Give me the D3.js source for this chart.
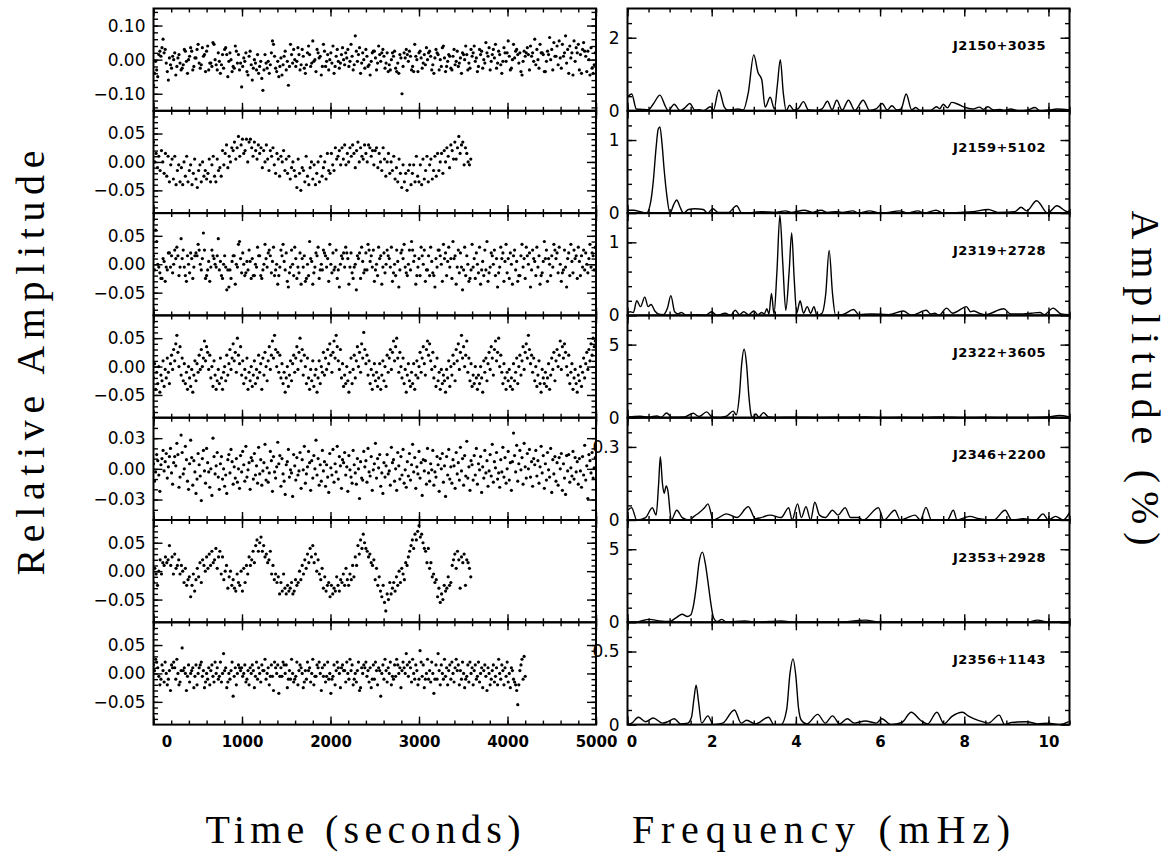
<!DOCTYPE html>
<html>
<head>
<meta charset="utf-8" />
<script src="https://d3js.org/d3.v7.min.js"></script>
<style>
  body { margin: 0; background: #fff; }
  .ylab text { font-family: "DejaVu Sans", sans-serif; font-size: 17px; fill: #000; }
  .xlab text { font-family: "DejaVu Sans", sans-serif; font-size: 15px; font-weight: bold; fill: #000; }
  .tick line { stroke: #000; stroke-width: 1.4px; }
  .title { font-family: "Liberation Serif", serif; font-size: 40px; fill: #000; }
  .star { font-family: "DejaVu Sans", sans-serif; font-size: 13px; font-weight: bold; letter-spacing: 0.5px; fill: #000; }
</style>
</head>
<body>
<svg id="chart" width="1173" height="858"></svg>
<script>
// ---- data: star names, light curves (units of 0.001), periodograms [mHz, %] ----
var stars = ["J2150+3035", "J2159+5102", "J2319+2728", "J2322+3605", "J2346+2200", "J2353+2928", "J2356+1143"];

// sampling step of each light curve (seconds)
var cadence = [12, 15, 12, 12, 12, 15, 12];

var lc1 = [-75,-40,-5,-30,-50,15,25,10,35,60,20,30,-10,-35,-60,5,-15,-25,10,0,
  20,-45,-20,5,15,-10,-30,-25,-15,30,25,-5,-40,0,10,35,25,-30,-20,5,
  5,30,45,-10,-25,-15,35,10,15,-35,25,40,-30,-10,-10,-20,50,45,0,-15,
  -30,20,-5,-40,-15,15,-25,30,35,15,-50,-5,20,0,-35,-20,-25,40,25,-10,
  15,-30,-10,-80,-20,5,-5,20,-35,-45,10,25,-15,-60,-25,0,-10,-30,15,-40,
  -20,-5,-55,-90,-30,15,-10,-25,-5,-40,-15,20,55,45,10,-25,-35,-5,-50,-20,
  5,-45,-15,10,25,-30,-5,-75,-20,45,15,-10,30,0,-20,-5,35,15,-30,-15,
  30,10,-25,-40,-15,20,40,15,-20,-10,55,-5,0,-35,30,20,5,10,-45,-20,
  45,25,-20,-5,15,-30,0,20,-10,40,-40,-20,10,30,-5,-25,-10,15,35,0,
  -15,20,5,30,-20,-5,45,10,-30,-15,70,25,-5,15,35,-40,-10,20,0,-25,
  30,10,-20,-15,-45,-5,20,25,25,5,-30,-10,40,15,-5,20,30,10,-25,-10,
  20,-35,-15,-30,0,20,10,25,-25,-35,-10,-40,15,5,-100,-20,20,5,30,15,
  -5,25,10,-30,-20,-35,45,10,0,-35,20,25,5,-25,-10,15,-15,35,0,20,
  25,10,-30,-15,-40,5,30,20,15,-30,0,-20,35,40,5,-35,-20,-5,15,10,
  -25,-30,10,30,-15,-5,25,-20,-10,5,-40,20,15,0,40,15,-30,-10,-25,30,
  10,20,40,-5,5,-35,-20,30,15,25,-25,0,-10,50,20,10,35,-30,-5,15,
  30,5,45,-25,-10,25,15,-15,-40,-5,35,20,-5,20,55,10,-30,-25,0,45,
  5,25,30,15,-10,20,-35,-45,-5,25,10,20,35,15,-30,40,10,20,-5,60,
  -15,30,0,-25,45,20,20,15,-35,-35,-5,25,15,65,0,30,-30,50,10,10,
  40,-15,55,5,-25,45,10,20,70,-10,30,-40,40,5,20,-45,55,-5,35,20,
  45,-30,15,-40,30,50,25,10,-35,25,0,-45,35,-25,-40,-15,20];

var lc2 = [35,0,15,-10,10,-15,20,0,-20,15,-25,10,-35,-5,5,-30,10,-40,-15,-5,
  -35,-10,-40,0,-25,10,-35,-15,-5,-40,-20,5,-30,-45,-15,-5,-35,0,-25,-15,
  -30,-20,5,-35,-5,10,-25,-35,5,-15,-10,-25,20,-5,15,30,-10,10,0,25,
  20,35,5,25,45,10,30,40,15,20,40,0,35,40,25,10,35,20,5,30,
  15,25,-10,20,0,30,5,-15,20,10,25,-5,-20,15,5,-25,10,0,20,-15,
  5,-20,10,-30,-10,0,-15,-25,-45,5,-20,-50,-10,-15,-35,10,-25,-40,-10,0,
  -30,-5,-40,-20,0,-35,10,-25,-10,0,-30,15,-15,-20,15,-5,-15,25,5,10,
  20,-5,25,5,30,-5,15,0,25,10,30,15,-10,20,35,0,25,10,5,30,
  15,0,30,25,10,20,-5,20,25,-10,15,0,-15,25,5,-25,0,15,-20,0,
  -15,10,-30,-10,-35,5,-20,-45,-5,-35,-20,-50,-15,-5,-40,-20,-5,-35,10,-25,
  -35,-5,-40,5,-30,-15,10,-35,-5,5,-30,-15,10,-25,15,-15,0,15,-20,20,
  0,25,10,-10,30,20,5,35,5,25,45,15,30,35,-5,25,15,0,-5,5];

var lc3 = [15,-10,60,40,0,-5,-15,-25,-25,10,5,-30,-5,-10,20,20,-5,15,-15,0,
  25,10,30,15,-20,-5,45,10,25,-5,-20,-30,15,0,-15,20,10,-25,-5,15,
  20,15,35,25,0,-10,10,55,25,-25,-20,-10,5,-30,-5,25,15,10,0,-5,
  15,45,-10,5,-20,-25,0,15,-5,-45,-10,-40,-10,-25,5,15,15,-35,0,-5,
  35,40,10,-15,20,0,-20,-15,5,-10,25,5,-25,10,-20,-20,0,-5,30,15,
  15,-20,-25,-10,0,35,10,-5,20,25,15,-15,5,30,-20,-10,0,-35,-20,-5,
  25,15,35,5,-10,20,-30,-40,-15,-5,25,0,-20,30,10,-25,-5,-15,20,-35,
  10,-5,15,-30,-25,0,-20,40,10,5,-35,-15,-5,20,15,30,-25,-10,0,-10,
  25,20,15,-5,10,-30,35,0,-15,20,-10,-5,25,-25,-10,-40,0,15,10,20,
  -5,30,20,10,-35,-5,20,-15,-25,-5,0,-45,15,10,20,-25,30,5,-15,-10,
  20,-10,35,25,5,15,-5,25,-30,-10,0,-20,30,10,15,-35,-5,20,-15,0,
  25,15,10,-5,30,-30,-15,0,-20,25,5,-40,-10,20,25,10,35,-5,-15,-20,
  0,25,-10,40,25,5,15,-35,-20,-5,10,-20,30,15,0,25,-30,-10,-10,15,
  -20,30,5,-15,-20,-40,10,-5,25,25,15,0,-30,35,10,20,-20,5,30,-5,
  10,-25,40,10,15,-35,-5,25,-15,20,-5,-45,-10,30,-20,15,0,-30,-25,-10,
  35,-5,10,-25,20,0,-15,30,-35,-10,5,-20,25,-10,40,-30,-15,-5,20,15,
  0,25,-20,10,-40,-15,-5,30,10,20,-30,5,35,-15,10,-25,20,0,-35,15,
  25,-10,5,-30,-20,-20,15,35,-5,10,-25,30,15,0,20,-40,-10,25,10,5,
  -20,30,-5,15,-35,-20,-15,5,40,10,25,-30,10,0,-20,15,-5,35,25,10,
  20,-15,30,0,-30,-15,-10,25,-5,-40,10,20,-20,35,5,-15,25,10,15,-25,
  30,5,-20,15,-5,25,-10,20,0,-15,10,35,-5,20,15,-10,30];

var lc4 = [-20,5,-40,-10,-30,0,-45,-15,-25,10,-35,-5,-20,15,-10,-30,5,20,-5,30,10,40,55,25,0,35,-15,15,-25,5,
  -30,-10,-40,0,-20,-35,-5,-45,-15,10,-25,5,-10,20,-5,30,0,15,45,10,35,25,-5,20,-20,0,-35,10,-15,-40,-25,
  -5,-30,15,-20,-40,-10,0,-25,20,-15,5,30,-5,15,40,10,25,-10,50,20,5,35,-15,10,-30,-5,-20,15,-40,-10,
  -25,0,-35,-15,10,-30,-5,-20,20,-10,5,-40,15,-15,25,0,-25,10,35,-5,20,45,15,55,30,0,25,-10,20,-20,5,
  -30,-10,-45,-20,0,-35,-15,10,-25,5,20,-10,15,35,-5,25,50,10,30,-15,20,0,-30,15,-20,-40,-5,-25,10,
  -35,-15,-5,-45,-20,10,-30,0,-10,25,-15,15,-5,30,5,40,20,-10,25,45,15,55,35,10,-5,30,-20,5,-35,-15,-30,
  0,-25,-45,-10,15,-30,-5,20,-20,10,35,0,25,-10,40,15,60,30,5,20,-15,10,-30,-5,-40,-15,5,-25,-10,-35,
  -20,5,-40,-15,10,-25,0,-35,20,-10,15,30,-5,25,45,10,35,50,15,-10,25,0,-20,15,-30,-5,-45,-15,5,-25,-35,
  -10,-30,5,-40,-15,10,-20,0,25,-10,15,35,5,-15,30,45,20,40,10,-5,25,-20,0,-35,15,-25,-10,-40,-5,-30,-15,
  -25,-45,-5,-20,10,-35,0,-15,20,5,-25,30,10,40,-5,25,55,15,35,0,20,45,-10,15,-25,5,-35,-15,-30,0,-20,-40,
  -15,-30,0,-20,-45,10,-10,15,-25,5,25,-5,35,15,-15,30,45,10,25,50,0,20,-10,-30,5,-20,-40,-10,-25,-5,-35,
  -20,-40,5,-25,-10,15,-30,0,20,-15,10,35,-5,25,40,15,55,30,5,20,-10,15,-25,0,-35,-15,10,-30,-45,-5,-20,-30,
  -10,-35,-20,5,-40,-15,15,-5,25,-25,10,30,0,20,45,-5,35,15,40,25,0,-15,20,-30,-10,5,-40,-20,-5,-30,-45,-15,
  -25,0,-35,-10,15,-20,5,25,-5,30,10,40,20,50,35,45];

var lc5 = [5,-12,-3,14,8,-6,-22,4,10,18,-2,7,15,-9,2,12,20,-4,-15,6,
  12,3,25,14,-18,-8,33,16,-5,0,22,9,-12,-20,5,28,11,-16,8,-3,
  -24,-10,15,4,-7,-31,10,18,-2,-14,20,6,-3,-18,0,-26,30,12,-5,3,
  16,-8,-20,5,12,-10,0,-17,-6,-24,9,14,-4,19,7,-15,2,-9,10,-13,
  0,-19,13,-3,17,4,-12,22,-8,-1,6,-20,11,8,-10,15,-6,3,-14,21,
  -5,9,-16,-2,6,24,-11,1,-13,-4,17,8,-22,12,-3,-9,2,26,5,13,
  -17,10,-5,-12,-25,4,7,19,-8,-1,-4,-27,14,3,-11,11,-6,-2,16,-19,
  9,-1,22,-14,-5,2,17,6,-21,8,-9,13,0,28,-6,10,-16,4,-12,18,
  -2,7,-17,4,-8,-23,15,1,-6,19,-13,5,-3,22,-10,12,3,-19,9,6,
  16,-6,2,-22,13,-1,-8,-14,18,4,-4,-15,10,0,-29,7,-9,-11,17,2,
  8,-13,20,-3,-7,12,-21,-1,5,25,-9,10,1,14,-17,-4,-24,6,-8,3,
  14,-5,-2,-16,21,6,9,-12,0,-21,16,3,-10,12,-6,19,-14,-1,-18,7,
  -7,15,-11,4,24,-3,11,-19,2,-5,17,-9,6,-26,9,-2,8,-15,20,-4,
  -12,5,-1,18,-16,-3,-8,12,4,-22,10,0,15,-13,3,-27,12,-6,19,-10,
  2,-14,9,3,-19,16,-5,6,-11,21,-2,10,-16,13,-7,27,-9,2,-21,8,
  4,-11,13,-6,20,-15,5,-1,12,-23,2,-9,18,-4,8,-17,-2,14,-7,24,
  -13,7,1,16,-10,-4,-18,9,-3,21,-8,11,-14,0,17,-11,6,-21,7,35,
  13,-3,23,-12,5,18,-1,11,-15,25,2,-9,15,0,19,-8,7,-17,10,4,
  18,-7,8,-14,2,22,-4,13,-19,5,-11,16,-1,-8,20,-23,9,-5,12,-12,
  6,-16,11,0,15,-21,5,-9,-25,13,-2,14,-13,1,-7,17,-10,11,-3,7,
  -15,10,-2,-18,12,-6,23,-11,3,-29,14,8,-4,16,-9,1,11];

var lc6 = [-20,5,-5,-25,0,20,-5,15,10,25,15,20,45,10,25,-5,30,5,10,20,
  -5,10,0,-20,5,-25,-15,-10,-45,-25,-5,-35,-15,5,-10,15,-20,20,10,0,
  25,5,30,10,35,15,20,40,5,25,35,-5,25,-15,0,10,-30,-10,0,-25,
  -15,-30,-35,-5,-20,-25,0,-35,5,-20,10,-5,25,10,20,35,15,45,55,35,
  50,60,35,45,25,30,15,20,35,-5,10,-15,-5,-20,-10,-40,-20,-35,-5,-30,
  -40,-25,-35,-30,-20,-40,-35,-15,-25,-20,0,-15,10,-5,20,5,30,15,40,25,
  45,15,30,0,20,-5,-15,5,-30,-10,-35,-25,-20,-45,-25,-40,-30,-35,-10,-25,
  -35,-15,-20,-5,-25,5,-15,-25,-5,-15,10,-10,25,10,45,30,55,40,65,50,
  40,35,25,30,15,10,20,-15,5,-25,-10,-35,-45,-25,-55,-70,-40,-50,-20,-40,
  -30,-20,-35,-10,-25,0,-20,5,-5,-15,15,10,25,35,45,55,40,65,55,70,
  80,60,65,50,40,35,15,40,5,15,-10,-5,-20,-15,-45,-30,-55,-40,-50,-25,
  -35,-30,-10,-25,-20,10,20,30,5,35,20,-30,25,15,30,-25,20,15,5,-10];

var lc7 = [15,5,25,20,10,-5,-20,-10,15,5,-15,20,0,-20,-10,5,-30,15,10,20,
  10,-10,25,0,-20,-15,5,45,5,10,0,-30,-5,15,-15,0,5,10,-25,-5,
  15,-20,0,10,15,20,-5,5,-25,-15,0,-10,10,-20,5,15,-5,-15,20,0,
  10,-10,-5,20,-15,0,35,5,10,-25,-15,0,-10,5,20,-40,-5,10,-20,0,
  15,10,5,10,-5,0,15,-15,-10,5,-20,10,0,15,5,-25,-5,20,-10,10,
  0,-15,15,5,5,25,-10,0,10,-20,-5,15,-5,-30,20,10,0,15,-35,-5,
  10,-5,20,15,0,15,-25,-10,5,-10,25,0,-15,-10,-5,20,-20,5,15,10,
  0,-25,-15,5,-10,20,5,10,-15,0,25,-20,-5,-5,15,10,20,0,-30,10,
  -5,15,-15,-5,20,-10,0,-35,-10,-5,15,-20,5,20,10,0,-25,10,15,5,
  5,-15,20,0,-10,25,5,15,-20,-10,0,-15,5,20,-30,-25,10,0,15,10,
  20,-5,5,-15,10,-25,-10,15,-10,20,5,-20,10,5,-40,0,15,-10,25,5,
  -15,10,0,20,-20,-5,-10,15,-5,25,15,0,10,-25,5,20,10,0,35,15,
  -5,20,10,-15,25,0,-10,15,5,-20,-10,40,20,-5,15,-25,-10,0,25,-10,
  5,-15,20,0,-35,-10,15,-10,35,5,-20,15,0,-10,25,-5,10,-20,5,15,
  -10,20,0,-15,10,25,5,15,-20,5,-10,20,0,-25,-10,-5,15,-15,20,0,
  10,-20,5,15,-10,-5,20,-15,0,10,-25,5,15,-5,-30,10,0,-20,-10,5,
  15,-15,-5,10,-20,25,0,-10,15,5,-20,10,-5,20,-15,0,-25,10,5,-10,
  -15,-20,-30,-55,-20,5,15,25,-10,30,-5];

var pg1 = [[0,0.38],[0.1,0.46],[0.21,0.05],[0.35,0.04],[0.5,0.03],[0.62,0.2],[0.77,0.43],[0.9,0.12],[0.97,0.0],
  [1.11,0.18],[1.25,0.0],[1.36,0.08],[1.48,0.2],[1.6,0.02],[1.7,0.03],[1.8,0.0],[1.97,0.11],[2.04,0.02],[2.17,0.57],
  [2.3,0.1],[2.38,0.02],[2.5,0.03],[2.62,0.05],[2.75,0.02],[2.87,0.5],[3.0,1.53],[3.1,1.05],[3.19,0.85],[3.27,0.1],
  [3.39,0.37],[3.49,0.05],[3.56,0.7],[3.63,1.40],[3.7,0.5],[3.77,0.0],[3.85,0.15],[3.95,0.02],[4.05,0.05],[4.18,0.25],
  [4.3,0.02],[4.5,0.01],[4.62,0.05],[4.75,0.26],[4.86,0.03],[4.97,0.29],[5.1,0.02],[5.25,0.29],[5.4,0.01],[5.6,0.29],
  [5.75,0.01],[5.9,0.05],[6.05,0.2],[6.17,0.02],[6.28,0.14],[6.4,0.02],[6.5,0.05],[6.62,0.46],[6.75,0.03],[6.85,0.09],
  [6.95,0.01],[7.2,0.01],[7.34,0.11],[7.42,0.06],[7.5,0.18],[7.6,0.08],[7.7,0.23],[7.85,0.18],[8.0,0.1],[8.2,0.05],
  [8.36,0.1],[8.46,0.04],[8.56,0.11],[8.7,0.02],[8.85,0.04],[8.95,0.01],[9.1,0.05],[9.3,0.0],[9.5,0.02],[9.68,0.09],
  [9.8,0.0],[10.0,0.02],[10.2,0.05],[10.5,0.02]];

var pg2 = [[0,0.04],[0.15,0.04],[0.3,0.02],[0.45,0.0],[0.55,0.15],[0.61,0.42],[0.68,0.9],[0.73,1.15],[0.77,1.18],
  [0.82,0.95],[0.87,0.6],[0.93,0.26],[1.01,0.0],[1.1,0.12],[1.17,0.18],[1.25,0.08],[1.33,0.0],[1.45,0.05],[1.6,0.06],
  [1.8,0.05],[1.9,0.0],[2.03,0.06],[2.15,0.01],[2.4,0.01],[2.59,0.1],[2.72,0.0],[3.0,0.01],[3.2,0.02],[3.5,0.01],
  [3.75,0.03],[3.9,0.01],[4.2,0.04],[4.4,0.01],[4.6,0.04],[4.75,0.01],[4.95,0.02],[5.1,0.01],[5.35,0.03],[5.5,0.0],
  [5.75,0.03],[6.0,0.0],[6.2,0.01],[6.46,0.03],[6.65,0.0],[6.9,0.03],[7.05,0.0],[7.33,0.04],[7.5,0.0],[7.9,0.01],
  [8.2,0.02],[8.57,0.05],[8.8,0.01],[9.2,0.02],[9.35,0.08],[9.48,0.03],[9.72,0.17],[9.98,0.0],[10.2,0.1],[10.45,0.02],[10.5,0.03]];

var pg3 = [[0,0.03],[0.06,0.05],[0.14,0.04],[0.22,0.2],[0.31,0.12],[0.41,0.25],[0.49,0.12],[0.56,0.15],[0.65,0.06],
  [0.73,0.02],[0.85,0.01],[0.95,0.1],[1.03,0.27],[1.12,0.05],[1.2,0.02],[1.28,0.04],[1.4,0.0],[1.6,0.01],[1.85,0.0],
  [2.0,0.05],[2.12,0.0],[2.32,0.03],[2.45,0.0],[2.56,0.07],[2.66,0.01],[2.76,0.05],[2.88,0.01],[3.0,0.06],[3.1,0.01],
  [3.19,0.04],[3.25,0.02],[3.31,0.09],[3.36,0.02],[3.42,0.3],[3.48,0.02],[3.55,0.6],[3.62,1.37],[3.69,0.7],[3.76,0.07],
  [3.84,0.6],[3.9,1.13],[3.96,0.5],[4.02,0.03],[4.1,0.2],[4.18,0.03],[4.27,0.12],[4.35,0.03],[4.43,0.12],[4.5,0.0],
  [4.62,0.03],[4.71,0.3],[4.79,0.89],[4.87,0.3],[4.94,0.01],[5.1,0.01],[5.37,0.08],[5.5,0.01],[5.8,0.02],[6.2,0.01],
  [6.55,0.06],[6.75,0.0],[7.1,0.07],[7.2,0.02],[7.3,0.03],[7.4,0.0],[7.58,0.1],[7.72,0.03],[7.82,0.05],[8.05,0.12],
  [8.15,0.05],[8.22,0.06],[8.35,0.03],[8.5,0.01],[8.94,0.09],[9.1,0.02],[9.4,0.02],[9.6,0.03],[9.8,0.04],[9.9,0.01],
  [10.11,0.1],[10.3,0.02],[10.5,0.01]];

var pg4 = [[0,0.05],[0.3,0.1],[0.5,0.05],[0.7,0.12],[0.8,0.03],[0.93,0.32],[1.05,0.03],[1.35,0.05],[1.56,0.3],
  [1.7,0.08],[1.88,0.4],[2.02,0.03],[2.2,0.02],[2.35,0.1],[2.51,0.45],[2.58,0.2],[2.66,1.6],[2.71,3.6],[2.77,4.68],
  [2.83,3.6],[2.88,1.6],[2.94,0.15],[2.98,0.0],[3.05,0.25],[3.12,0.02],[3.23,0.35],[3.35,0.05],[3.5,0.02],[4.0,0.04],
  [4.5,0.02],[5.0,0.03],[5.67,0.05],[6.0,0.01],[6.5,0.03],[7.0,0.01],[7.4,0.05],[8.0,0.02],[8.5,0.03],[9.0,0.01],
  [9.5,0.02],[10.0,0.05],[10.25,0.15],[10.5,0.05]];

var pg5 = [[0,0.04],[0.1,0.05],[0.22,0.0],[0.43,0.01],[0.59,0.05],[0.68,0.02],[0.74,0.15],[0.78,0.26],[0.83,0.15],
  [0.87,0.11],[0.92,0.14],[0.96,0.12],[1.04,0.0],[1.17,0.04],[1.3,0.01],[1.47,0.0],[1.58,0.015],[1.7,0.03],[1.83,0.05],
  [1.91,0.066],[2.04,0.0],[2.17,0.01],[2.35,0.025],[2.6,0.01],[2.87,0.055],[3.04,0.005],[3.17,0.01],[3.39,0.02],
  [3.65,0.01],[3.83,0.05],[3.91,0.0],[4.04,0.066],[4.13,0.01],[4.24,0.055],[4.35,0.0],[4.45,0.073],[4.56,0.02],
  [4.7,0.01],[4.87,0.04],[5.0,0.02],[5.17,0.05],[5.3,0.01],[5.48,0.01],[5.6,0.0],[5.96,0.05],[6.09,0.0],[6.35,0.04],
  [6.48,0.0],[6.65,0.01],[6.83,0.02],[6.96,0.0],[7.09,0.052],[7.22,0.0],[7.6,0.0],[7.74,0.04],[7.83,0.0],[8.13,0.015],
  [8.35,0.005],[8.7,0.0],[8.97,0.04],[9.13,0.0],[9.4,0.005],[9.7,0.0],[9.87,0.025],[10.0,0.0],[10.17,0.015],
  [10.35,0.0],[10.5,0.03]];

var pg6 = [[0,0.0],[0.26,0.05],[0.52,0.2],[0.75,0.1],[1.0,0.05],[1.15,0.3],[1.3,0.55],[1.42,0.4],[1.5,0.5],
  [1.57,1.2],[1.64,2.6],[1.7,4.1],[1.78,4.8],[1.85,4.0],[1.91,2.8],[1.97,1.5],[2.04,0.35],[2.13,0.05],[2.24,0.2],
  [2.35,0.0],[2.78,0.1],[3.1,0.0],[3.65,0.1],[4.0,0.0],[4.5,0.02],[5.0,0.0],[5.65,0.15],[6.0,0.0],[7.0,0.02],
  [8.0,0.0],[9.5,0.02],[9.74,0.15],[10.0,0.0],[10.5,0.03]];

var pg7 = [[0,0.0],[0.1,0.01],[0.26,0.05],[0.43,0.02],[0.61,0.045],[0.83,0.01],[0.96,0.02],[1.11,0.04],[1.26,0.005],
  [1.43,0.01],[1.52,0.05],[1.58,0.18],[1.63,0.27],[1.69,0.15],[1.76,0.01],[1.91,0.06],[2.04,0.0],[2.26,0.01],
  [2.54,0.1],[2.7,0.01],[2.83,0.03],[3.04,0.005],[3.35,0.05],[3.48,0.0],[3.65,0.0],[3.78,0.1],[3.86,0.35],[3.93,0.45],
  [4.0,0.33],[4.06,0.12],[4.13,0.03],[4.26,0.005],[4.52,0.07],[4.7,0.01],[4.87,0.06],[5.04,0.005],[5.22,0.04],
  [5.39,0.01],[5.65,0.025],[5.91,0.01],[6.04,0.04],[6.26,0.0],[6.52,0.015],[6.74,0.085],[6.96,0.03],[7.13,0.005],
  [7.35,0.085],[7.52,0.005],[7.7,0.055],[7.96,0.085],[8.09,0.06],[8.43,0.02],[8.57,0.01],[8.83,0.065],[8.96,0.0],
  [9.13,0.015],[9.48,0.02],[9.74,0.005],[10.0,0.01],[10.26,0.0],[10.48,0.02]];

// axis ranges and tick steps per row
var leftRange = [0.15, 0.09, 0.09, 0.09, 0.05, 0.09, 0.09];
var leftMajor = [0.10, 0.05, 0.05, 0.05, 0.03, 0.05, 0.05];
var leftMinor = [0.02, 0.01, 0.01, 0.01, 0.01, 0.01, 0.01];
var rightMax = [2.8, 1.4, 1.4, 7, 0.42, 7, 0.7];
var rightMajor = [2, 1, 1, 5, 0.3, 5, 0.5];
var rightMinor = [0.4, 0.2, 0.2, 1, 0.06, 1, 0.1];
var timeTicks = [0, 1000, 2000, 3000, 4000, 5000];
var freqTicks = [0, 2, 4, 6, 8, 10];

var curves = [lc1, lc2, lc3, lc4, lc5, lc6, lc7];
var spectra = [pg1, pg2, pg3, pg4, pg5, pg6, pg7];

// ---- layout ----
var svg = d3.select("#chart");
svg.append("rect").attr("width", 1173).attr("height", 858).attr("fill", "#fff");

var L0 = 153.5, L1 = 596, R0 = 627.5, R1 = 1069.5;
var top0 = 8.5, rowH = 102.3;

var xt = d3.scaleLinear().domain([0, 5000]).range([L0, L1]);
var xf = d3.scaleLinear().domain([0, 10.5]).range([R0, R1]);

function steps(lo, hi, st) {
  var n = Math.round((hi - lo) / st), out = [];
  for (var k = 0; k <= n; k++) out.push(+(lo + k * st).toFixed(4));
  return out;
}
function fmtLeft(v) {
  var s = Math.abs(v).toFixed(2);
  return v < -1e-9 ? "\u2212" + s : s;
}

function frame(g, xs, ys, xMaj, xMin, yMaj, yMin, yFmt, bottomLabels) {
  var x0 = xs.range()[0], x1 = xs.range()[1];
  var y0 = ys.range()[0], y1 = ys.range()[1];
  // minor ticks
  g.append("g").attr("transform", "translate(0," + y0 + ")")
    .call(d3.axisBottom(xs).tickValues(xMin).tickSize(-4).tickFormat(""));
  g.append("g").attr("transform", "translate(0," + y1 + ")")
    .call(d3.axisTop(xs).tickValues(xMin).tickSize(-4).tickFormat(""));
  g.append("g").attr("transform", "translate(" + x0 + ",0)")
    .call(d3.axisLeft(ys).tickValues(yMin).tickSize(-4.5).tickFormat(""));
  g.append("g").attr("transform", "translate(" + x1 + ",0)")
    .call(d3.axisRight(ys).tickValues(yMin).tickSize(-4.5).tickFormat(""));
  // major ticks
  var bx = g.append("g").attr("class", "xlab").attr("transform", "translate(0," + y0 + ")")
    .call(d3.axisBottom(xs).tickValues(xMaj).tickSize(-8).tickPadding(12)
      .tickFormat(bottomLabels ? d3.format("d") : ""));
  g.append("g").attr("transform", "translate(0," + y1 + ")")
    .call(d3.axisTop(xs).tickValues(xMaj).tickSize(-8).tickFormat(""));
  g.append("g").attr("class", "ylab").attr("transform", "translate(" + x0 + ",0)")
    .call(d3.axisLeft(ys).tickValues(yMaj).tickSize(-9).tickPadding(8).tickFormat(yFmt));
  g.append("g").attr("transform", "translate(" + x1 + ",0)")
    .call(d3.axisRight(ys).tickValues(yMaj).tickSize(-9).tickFormat(""));
  g.selectAll(".domain").remove();
  g.append("rect").attr("x", x0).attr("y", y1).attr("width", x1 - x0).attr("height", y0 - y1)
    .attr("fill", "none").attr("stroke", "#000").attr("stroke-width", 2);
  return bx;
}

for (var i = 0; i < 7; i++) {
  var yTop = top0 + i * rowH, yBot = yTop + rowH;
  var last = i === 6;

  // left: light curve
  var yl = d3.scaleLinear().domain([-leftRange[i], leftRange[i]]).range([yBot, yTop]);
  var gl = svg.append("g");
  svg.append("clipPath").attr("id", "clipL" + i).append("rect")
    .attr("x", L0).attr("y", yTop).attr("width", L1 - L0).attr("height", rowH);
  var pts = curves[i].map(function (v, k) { return { t: k * cadence[i], v: v / 1000 }; });
  gl.append("g").attr("clip-path", "url(#clipL" + i + ")")
    .selectAll("circle").data(pts).enter().append("circle")
    .attr("cx", function (d) { return xt(d.t); })
    .attr("cy", function (d) { return yl(d.v); })
    .attr("r", 1.6).attr("fill", "#000");
  var lmaj = [-leftMajor[i], 0, leftMajor[i]];
  var first = Math.ceil(-leftRange[i] / leftMinor[i] + 1e-6) * leftMinor[i];
  var lmin = steps(first, -first, leftMinor[i]);
  var bl = frame(gl, xt, yl, timeTicks, steps(0, 5000, 200), lmaj, lmin, fmtLeft, last);
  if (last) bl.selectAll("text").filter(function (d) { return d === 0; }).attr("dx", 13);

  // right: periodogram
  var yr = d3.scaleLinear().domain([0, rightMax[i]]).range([yBot, yTop]);
  var gr = svg.append("g");
  svg.append("clipPath").attr("id", "clipR" + i).append("rect")
    .attr("x", R0).attr("y", yTop).attr("width", R1 - R0).attr("height", rowH);
  var line = d3.line().x(function (d) { return xf(d[0]); }).y(function (d) { return yr(d[1]); })
    .curve(d3.curveMonotoneX);
  gr.append("path").datum(spectra[i]).attr("clip-path", "url(#clipR" + i + ")")
    .attr("d", line).attr("fill", "none").attr("stroke", "#000").attr("stroke-width", 1.4);
  var rmin = steps(0, rightMax[i], rightMinor[i]).filter(function (v) { return v > 0 && v < rightMax[i]; });
  var br = frame(gr, xf, yr, freqTicks, steps(0, 10.5, 0.5), [0, rightMajor[i]], rmin, d3.format(""), last);
  if (last) br.selectAll("text").filter(function (d) { return d === 0; }).attr("dx", 4);

  gr.append("text").attr("class", "star").attr("x", 1046).attr("y", yTop + 41.5)
    .attr("text-anchor", "end").text(stars[i]);
}

// ---- axis titles ----
svg.append("text").attr("class", "title").attr("text-anchor", "middle")
  .attr("transform", "translate(44,363) rotate(-90)")
  .attr("textLength", 425).attr("lengthAdjust", "spacing").text("Relative Amplitude");
svg.append("text").attr("class", "title").attr("text-anchor", "middle")
  .attr("transform", "translate(1132,378) rotate(90)")
  .attr("textLength", 335).attr("lengthAdjust", "spacing").text("Amplitude (%)");
svg.append("text").attr("class", "title").attr("text-anchor", "middle")
  .attr("x", 363).attr("y", 843)
  .attr("textLength", 315).attr("lengthAdjust", "spacing").text("Time (seconds)");
svg.append("text").attr("class", "title").attr("text-anchor", "middle")
  .attr("x", 821).attr("y", 843)
  .attr("textLength", 378).attr("lengthAdjust", "spacing").text("Frequency (mHz)");
</script>
</body>
</html>
